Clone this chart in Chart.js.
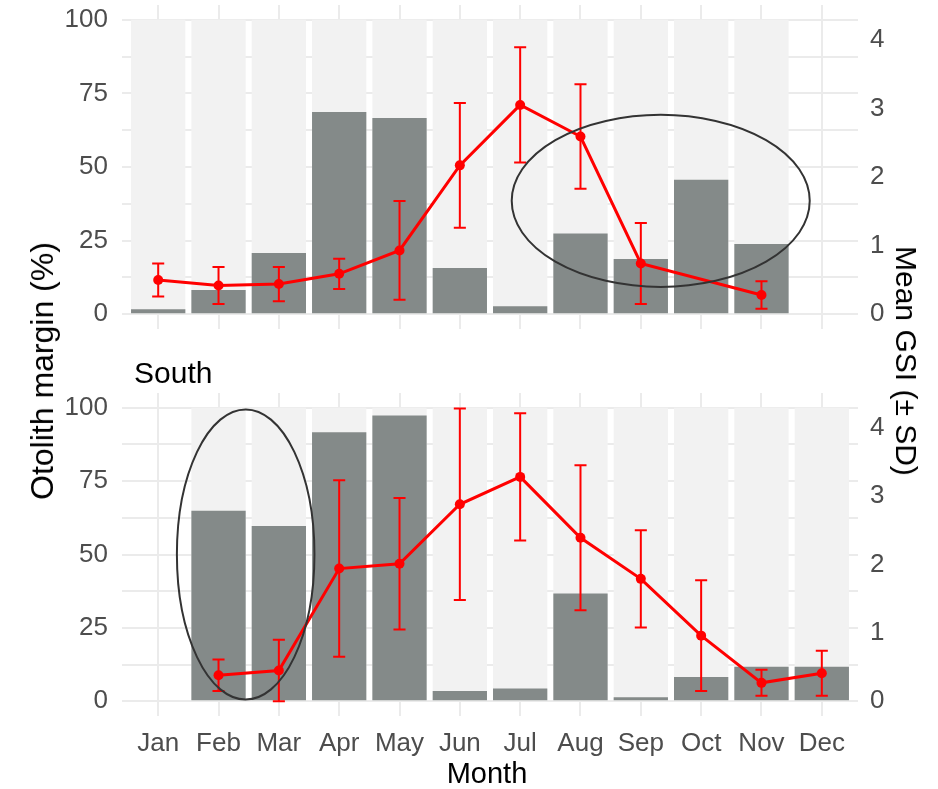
<!DOCTYPE html>
<html>
<head>
<meta charset="utf-8">
<script src="https://cdn.jsdelivr.net/npm/chart.js@4"></script>
<style>
  body { margin: 0; background: #fff; font-family: "Liberation Sans", Arial, sans-serif; }
  #wrap { position: relative; width: 938px; height: 789px; overflow: hidden; }
  canvas { position: absolute; left: 0; }
  .lbl { position: absolute; white-space: nowrap; color: #000; line-height: 1; }
  .rot { transform: translate(-50%, -50%) rotate(-90deg); }
  .rot2 { transform: translate(-50%, -50%) rotate(90deg); }
</style>
</head>
<body>
<div id="wrap">
  <canvas id="north" width="938" height="345" style="top:0"></canvas>
  <canvas id="south" width="938" height="409" style="top:380px"></canvas>
  <div class="lbl" style="left:134px; top:358px; font-size:30px;">South</div>
  <div class="lbl rot" style="left:42px; top:371px; font-size:32px;">Otolith margin (%)</div>
  <div class="lbl rot2" style="left:906px; top:361px; font-size:30px;">Mean GSI (± SD)</div>
  <div class="lbl" style="left:487px; top:773px; font-size:29px; transform:translate(-50%,-50%);">Month</div>
</div>
<script>
const months = ['Jan', 'Feb', 'Mar', 'Apr', 'May', 'Jun', 'Jul', 'Aug', 'Sep', 'Oct', 'Nov', 'Dec'];

// otolith margin (%), bars
const marginNorth = [1.7, 8.2, 20.8, 68.7, 66.6, 15.7, 2.7, 27.4, 18.8, 45.7, 23.9, null];
const marginSouth = [null, 64.9, 59.7, 91.6, 97.3, 3.5, 4.4, 36.7, 1.4, 8.3, 11.8, 11.8];

// mean GSI and SD, red line
const gsiNorth = [0.50, 0.42, 0.44, 0.59, 0.93, 2.17, 3.05, 2.59, 0.74, null, 0.28, null];
const sdNorth  = [0.24, 0.27, 0.25, 0.22, 0.72, 0.91, 0.84, 0.76, 0.59, null, 0.20, null];
const gsiSouth = [null, 0.38, 0.45, 1.94, 2.01, 2.88, 3.28, 2.39, 1.79, 0.96, 0.27, 0.41];
const sdSouth  = [null, 0.23, 0.45, 1.29, 0.96, 1.40, 0.93, 1.06, 0.71, 0.81, 0.19, 0.33];

const marginTicks = [0, 25, 50, 75, 100];
const gsiTicks = [0, 1, 2, 3, 4];
const GSI_FACTOR = 23.3; // % per GSI unit on the secondary axis

// hand-drawn ellipses, in data units (month index, %)
const ellipseNorth = { x: 8.33, y: 38.5, rx: 2.47, ry: 29.2 };
const ellipseSouth = { x: 1.45, y: 50, rx: 1.14, ry: 49.4 };

const tickFont = { family: '"Liberation Sans", Arial, sans-serif', size: 26 };
const tickColor = '#4d4d4d';
const gridColor = '#ebebeb';

const toXY = arr => arr.map((v, i) => (v === null ? null : { x: i, y: v })).filter(Boolean);

// minor grid between major ticks
const marginGrid = [];
marginTicks.forEach((t, i) => {
  marginGrid.push(t);
  if (i < marginTicks.length - 1) marginGrid.push((t + marginTicks[i + 1]) / 2);
});

const noPad = s => { s.paddingTop = 0; s.paddingBottom = 0; s.paddingLeft = 0; s.paddingRight = 0; };

function makePanel(id, margin, gsi, sd, ellipse, showMonths, padTop, xHeight) {
  const extras = {
    id: 'extras',
    afterDatasetsDraw(chart) {
      const { ctx, scales: { x, y, y1 } } = chart;
      ctx.save();
      // error bars
      ctx.strokeStyle = '#ff0000';
      ctx.lineWidth = 2;
      const cap = x.getPixelForValue(0.1) - x.getPixelForValue(0);
      gsi.forEach((g, i) => {
        if (g === null) return;
        const px = x.getPixelForValue(i);
        const top = y1.getPixelForValue(g + sd[i]);
        const bot = y1.getPixelForValue(g - sd[i]);
        ctx.beginPath();
        ctx.moveTo(px, top); ctx.lineTo(px, bot);
        ctx.moveTo(px - cap, top); ctx.lineTo(px + cap, top);
        ctx.moveTo(px - cap, bot); ctx.lineTo(px + cap, bot);
        ctx.stroke();
      });
      // ellipse
      const cx = x.getPixelForValue(ellipse.x);
      const cy = y.getPixelForValue(ellipse.y);
      const rx = x.getPixelForValue(ellipse.x + ellipse.rx) - cx;
      const ry = cy - y.getPixelForValue(ellipse.y + ellipse.ry);
      ctx.strokeStyle = '#333333';
      ctx.lineWidth = 2;
      ctx.beginPath();
      ctx.ellipse(cx, cy, rx, ry, 0, 0, Math.PI * 2);
      ctx.stroke();
      ctx.restore();
    }
  };

  return new Chart(document.getElementById(id), {
    data: {
      datasets: [
        {
          type: 'line',
          data: toXY(gsi),
          yAxisID: 'y1',
          borderColor: '#ff0000',
          backgroundColor: '#ff0000',
          borderWidth: 3,
          pointRadius: 5,
          pointBorderWidth: 0,
          tension: 0,
          order: 1
        },
        {
          type: 'bar',
          data: toXY(margin),
          yAxisID: 'y',
          backgroundColor: '#848a89',
          grouped: false,
          categoryPercentage: 1,
          barPercentage: 0.9,
          order: 2
        },
        {
          type: 'bar',
          data: toXY(margin.map(v => (v === null ? null : 100))),
          yAxisID: 'y',
          backgroundColor: '#f2f2f2',
          grouped: false,
          categoryPercentage: 1,
          barPercentage: 0.9,
          order: 3
        }
      ]
    },
    options: {
      responsive: false,
      animation: false,
      layout: { padding: { top: padTop, left: 0, right: 0, bottom: 0 } },
      plugins: { legend: { display: false }, tooltip: { enabled: false } },
      scales: {
        x: {
          type: 'linear',
          offset: false,
          min: -0.6,
          max: 11.6,
          afterBuildTicks: s => { s.ticks = months.map((m, i) => ({ value: i })); },
          afterFit: s => { s.height = xHeight; noPad(s); },
          ticks: {
            display: showMonths,
            autoSkip: false,
            maxRotation: 0,
            padding: 12,
            font: tickFont,
            color: tickColor,
            callback: v => months[v]
          },
          grid: { color: gridColor, lineWidth: 2, drawTicks: false, offset: false },
          border: { display: false }
        },
        y: {
          position: 'left',
          min: -5,
          max: 105,
          afterBuildTicks: s => { s.ticks = marginGrid.map(v => ({ value: v })); },
          afterFit: s => { s.width = 122; noPad(s); },
          ticks: {
            padding: 14,
            font: tickFont,
            color: tickColor,
            callback: v => (marginTicks.includes(v) ? v : '')
          },
          grid: { color: gridColor, lineWidth: 2, drawTicks: false },
          border: { display: false }
        },
        y1: {
          position: 'right',
          min: -5 / GSI_FACTOR,
          max: 105 / GSI_FACTOR,
          afterBuildTicks: s => { s.ticks = gsiTicks.map(v => ({ value: v })); },
          afterFit: s => { s.width = 80; noPad(s); },
          ticks: { padding: 12, font: tickFont, color: tickColor },
          grid: { display: false, drawTicks: false },
          border: { display: false }
        }
      }
    },
    plugins: [extras]
  });
}

makePanel('north', marginNorth, gsiNorth, sdNorth, ellipseNorth, false, 5, 16);
makePanel('south', marginSouth, gsiSouth, sdSouth, ellipseSouth, true, 13, 73);
</script>
</body>
</html>
